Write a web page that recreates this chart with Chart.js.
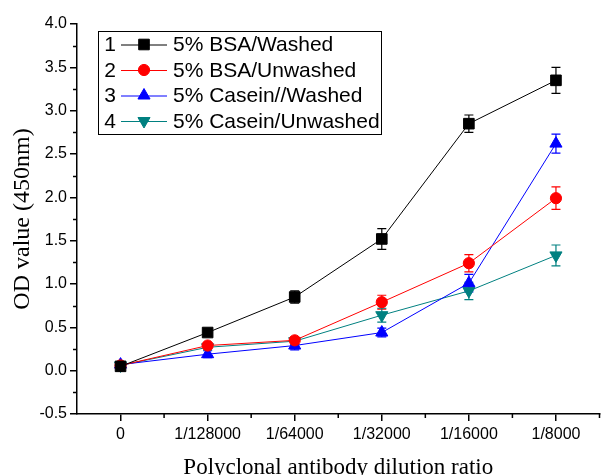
<!DOCTYPE html>
<html>
<head>
<meta charset="utf-8">
<script src="https://cdn.jsdelivr.net/npm/chart.js@4.4.0/dist/chart.umd.min.js"></script>
<style>
  html, body { margin: 0; padding: 0; background: #fff; }
  #wrap { width: 608px; height: 475px; }
</style>
</head>
<body>
<div id="wrap"><canvas id="odChart" width="608" height="475"></canvas></div>
<script>
// Dilution categories and OD readings (450nm), with error bar half-widths
const dilutions = ['0', '1/128000', '1/64000', '1/32000', '1/16000', '1/8000'];

const bsaWashed      = [0.05, 0.44, 0.85, 1.52, 2.85, 3.35];
const bsaWashedErr   = [0.03, 0.03, 0.07, 0.12, 0.10, 0.15];
const bsaUnwashed    = [0.06, 0.29, 0.35, 0.79, 1.24, 1.99];
const bsaUnwashedErr = [0.03, 0.03, 0.04, 0.08, 0.10, 0.13];
const casWashed      = [0.07, 0.19, 0.29, 0.44, 1.01, 2.62];
const casWashedErr   = [0.03, 0.04, 0.05, 0.05, 0.10, 0.11];
const casUnwashed    = [0.06, 0.27, 0.34, 0.64, 0.92, 1.33];
const casUnwashedErr = [0.03, 0.03, 0.04, 0.08, 0.10, 0.12];

const yTicksMin = -0.5;
const yTicksMax = 4.0;

const sansFont = "'Liberation Sans', Arial, sans-serif";
const serifFont = "'Liberation Serif', 'Times New Roman', serif";

function series(label, data, err, color, style, radius, rotation) {
    return {
        label: label,
        data: data,
        errors: err,
        borderColor: color,
        backgroundColor: color,
        borderWidth: 1,
        pointStyle: style,
        pointRadius: radius,
        pointHoverRadius: radius,
        pointRotation: rotation || 0,
        pointBorderWidth: 1,
        tension: 0
    };
}

// error bars, drawn through the scales
const errorBars = {
    id: 'errorBars',
    beforeDatasetsDraw(chart) {
        const ctx = chart.ctx;
        const x = chart.scales.x, y = chart.scales.y;
        chart.data.datasets.forEach((ds) => {
            ctx.save();
            ctx.strokeStyle = ds.borderColor;
            ctx.lineWidth = 1.2;
            ds.data.forEach((v, i) => {
                const px = x.getPixelForValue(i);
                const top = y.getPixelForValue(v + ds.errors[i]);
                const bot = y.getPixelForValue(v - ds.errors[i]);
                ctx.beginPath();
                ctx.moveTo(px, top); ctx.lineTo(px, bot);
                ctx.moveTo(px - 4.5, top); ctx.lineTo(px + 4.5, top);
                ctx.moveTo(px - 4.5, bot); ctx.lineTo(px + 4.5, bot);
                ctx.stroke();
            });
            ctx.restore();
        });
    }
};

// minor ticks on both axes
const minorTicks = {
    id: 'minorTicks',
    afterDraw(chart) {
        const ctx = chart.ctx;
        const x = chart.scales.x, y = chart.scales.y;
        ctx.save();
        ctx.strokeStyle = '#000';
        ctx.lineWidth = 1.5;
        ctx.beginPath();
        for (let v = yTicksMin + 0.25; v < yTicksMax; v += 0.5) {
            const py = Math.round(y.getPixelForValue(v)) + 0.5;
            ctx.moveTo(x.left, py); ctx.lineTo(x.left - 4, py);
        }
        for (let i = 0; i < dilutions.length; i++) {
            const px = x.getPixelForValue(i + 0.5);
            ctx.moveTo(px, y.bottom); ctx.lineTo(px, y.bottom + 4);
        }
        ctx.stroke();
        ctx.restore();
    }
};

// boxed legend: number, line sample with marker, label
const boxLegend = {
    id: 'boxLegend',
    afterDraw(chart) {
        const ctx = chart.ctx;
        const rows = [44.5, 70, 95.5, 121];
        ctx.save();
        ctx.strokeStyle = '#000';
        ctx.lineWidth = 1;
        ctx.strokeRect(98.5, 31.5, 283, 103);
        ctx.font = '21px ' + sansFont;
        ctx.textBaseline = 'middle';
        chart.data.datasets.forEach((ds, i) => {
            const ry = rows[i];
            ctx.fillStyle = '#000';
            ctx.textAlign = 'center';
            ctx.fillText(String(i + 1), 110, ry + 1);
            ctx.strokeStyle = ds.borderColor;
            ctx.lineWidth = 1;
            ctx.beginPath();
            ctx.moveTo(121, ry + 0.5); ctx.lineTo(167, ry + 0.5);
            ctx.stroke();
            ctx.fillStyle = ds.backgroundColor;
            Chart.helpers.drawPoint(ctx, {
                pointStyle: ds.pointStyle,
                rotation: ds.pointRotation,
                radius: ds.pointRadius,
                borderWidth: 1
            }, 144, ry);
            ctx.fillStyle = '#000';
            ctx.textAlign = 'left';
            ctx.fillText(ds.label, 173, ry + 1);
        });
        ctx.restore();
    }
};

new Chart(document.getElementById('odChart'), {
    type: 'line',
    data: {
        labels: dilutions,
        datasets: [
            series('5% BSA/Washed', bsaWashed, bsaWashedErr, '#000000', 'rect', 7.5),
            series('5% BSA/Unwashed', bsaUnwashed, bsaUnwashedErr, '#ff0000', 'circle', 5.6),
            series('5% Casein//Washed', casWashed, casWashedErr, '#0000ff', 'triangle', 7),
            series('5% Casein/Unwashed', casUnwashed, casUnwashedErr, '#008080', 'triangle', 7, 180)
        ]
    },
    options: {
        responsive: false,
        animation: false,
        layout: { padding: { top: 24, right: 0, left: 0, bottom: 0 } },
        plugins: {
            legend: { display: false },
            tooltip: { enabled: false }
        },
        scales: {
            x: {
                offset: true,
                afterFit(scale) { scale.height = 61; },
                grid: {
                    display: true,
                    offset: false,
                    drawOnChartArea: false,
                    drawTicks: true,
                    tickLength: 7,
                    color: '#000',
                    lineWidth: 1.5
                },
                border: { display: true, color: '#000', width: 1.5 },
                ticks: {
                    color: '#000',
                    font: { family: sansFont, size: 16 },
                    padding: 4,
                    maxRotation: 0,
                    autoSkip: false
                },
                title: {
                    display: true,
                    text: 'Polyclonal antibody dilution ratio',
                    color: '#000',
                    font: { family: serifFont, size: 23 },
                    padding: { top: 0, bottom: -7 }
                }
            },
            y: {
                min: yTicksMin,
                max: yTicksMax,
                afterFit(scale) { scale.width = 77; },
                grid: {
                    display: true,
                    drawOnChartArea: false,
                    drawTicks: true,
                    tickLength: 7,
                    color: '#000',
                    lineWidth: 1.5
                },
                border: { display: true, color: '#000', width: 1.5 },
                ticks: {
                    stepSize: 0.5,
                    color: '#000',
                    font: { family: sansFont, size: 16 },
                    padding: 3,
                    callback: (v) => v.toFixed(1)
                },
                title: {
                    display: true,
                    text: 'OD value (450nm)',
                    color: '#000',
                    font: { family: serifFont, size: 24 },
                    padding: { top: 8, bottom: 0 }
                }
            }
        }
    },
    plugins: [errorBars, minorTicks, boxLegend]
});
</script>
</body>
</html>
